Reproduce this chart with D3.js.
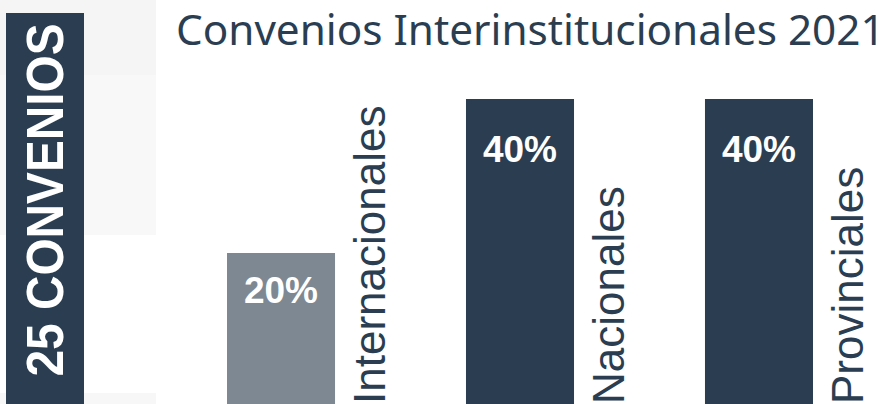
<!doctype html>
<html lang="es">
<head>
    <meta charset="UTF-8">
    <title>convenios-2021</title>
    <style>
        body { margin: 0; background: #fff; }
        svg { display: block; }
        .title { fill: #2b3e51; font-family: "Noto Sans", sans-serif; }
        .cat { fill: #2b3e51; font-family: "Liberation Sans", Arial, sans-serif; font-size: 44px; }
        .pct { fill: #fff; font-family: "Liberation Sans", Arial, sans-serif; font-weight: bold; font-size: 37px; }
        .side { fill: #fff; font-family: "Liberation Sans", Arial, sans-serif; font-weight: bold; }
    </style>
</head>
<body>

<svg width="890" height="404"></svg>

<script src="https://d3js.org/d3.v7.min.js"></script>
<script>
  const categories = ['Internacionales', 'Nacionales', 'Provinciales']
  const values = [20, 40, 40]
  const labels = ['20%', '40%', '40%']
  const barColors = ['#7d8893', '#2b3e51', '#2b3e51']
  const title = 'Convenios Interinstitucionales 2021'
  const sideText = '25 CONVENIOS'

  const svg = d3.select('svg')

  // fondo gris claro a la izquierda
  svg.append('rect').attr('x', 0).attr('y', 0).attr('width', 156).attr('height', 75).attr('fill', '#f5f5f5')
  svg.append('rect').attr('x', 0).attr('y', 75).attr('width', 156).attr('height', 160).attr('fill', '#f8f8f8')
  svg.append('rect').attr('x', 0).attr('y', 393).attr('width', 156).attr('height', 11).attr('fill', '#f7f7f7')

  // caja oscura con el total
  svg.append('rect').attr('x', 6).attr('y', 13).attr('width', 78).attr('height', 391).attr('fill', '#2b3e51')
  svg.append('text')
    .attr('class', 'side')
    .attr('transform', 'translate(63, 200) rotate(-90)')
    .attr('text-anchor', 'middle')
    .attr('font-size', 51)
    .attr('textLength', 353)
    .attr('lengthAdjust', 'spacingAndGlyphs')
    .text(sideText)

  // titulo, ajustado al ancho
  const t = svg.append('text')
    .attr('class', 'title')
    .attr('x', 176)
    .attr('y', 45)
    .attr('font-size', 42)
    .text(title)
  const w = t.node().getComputedTextLength()
  t.attr('font-size', 42 * 709 / w)

  const x = d3.scaleBand()
    .domain(categories)
    .range([227, 813])
    .paddingInner(0.548)
    .paddingOuter(0)

  const y = d3.scaleLinear()
    .domain([0, 40])
    .range([407, 99])

  const g = svg.append('g')

  g.selectAll('rect.bar')
    .data(values)
    .join('rect')
    .attr('class', 'bar')
    .attr('x', (d, i) => x(categories[i]))
    .attr('y', d => y(d))
    .attr('width', x.bandwidth())
    .attr('height', d => y(0) - y(d))
    .attr('fill', (d, i) => barColors[i])

  g.selectAll('text.pct')
    .data(values)
    .join('text')
    .attr('class', 'pct')
    .attr('text-anchor', 'middle')
    .attr('x', (d, i) => x(categories[i]) + x.bandwidth() / 2)
    .attr('y', d => y(d) + 37 + 0.085 * (y(0) - y(d)))
    .text((d, i) => labels[i])

  g.selectAll('text.cat')
    .data(categories)
    .join('text')
    .attr('class', 'cat')
    .attr('transform', d => `translate(${x(d) + x.bandwidth() + 50}, 404) rotate(-90)`)
    .text(d => d)
</script>
</body>
</html>
